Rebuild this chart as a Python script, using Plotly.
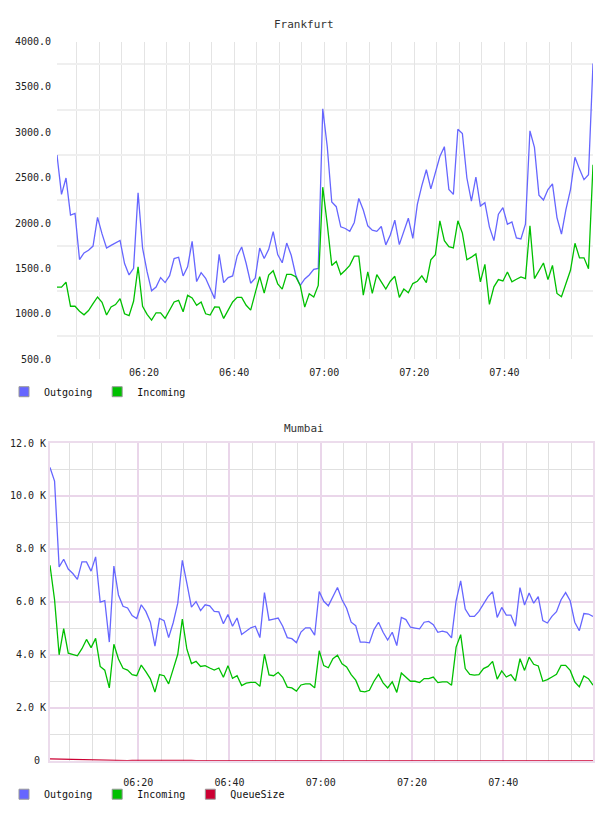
import pandas as pd
import plotly.graph_objects as go

# ---------------- data ----------------
times = pd.date_range("2015-03-10 06:00:40", periods=120, freq="1min")

fra_outgoing = [2750, 2315, 2496, 2087, 2105, 1598, 1671, 1699, 1746, 2062, 1880, 1724, 1754, 1779, 1808,
                1554, 1428, 1500, 2333, 1724, 1464, 1254, 1294, 1399, 1344, 1420, 1609, 1623, 1417, 1518,
                1797, 1355, 1453, 1391, 1283, 1167, 1656, 1344, 1399, 1417, 1638, 1736, 1554, 1337, 1391,
                1724, 1609, 1710, 1906, 1652, 1562, 1779, 1645, 1428, 1312, 1384, 1428, 1489, 1500,
                3259, 2842, 2231, 2180, 1958, 1940, 1908, 2006, 2271, 2144, 1969, 1922, 1908, 1962, 1759,
                1868, 2031, 1762, 1897, 2053, 1831, 2206, 2413, 2587, 2376, 2569, 2732, 2841, 2369, 2315,
                3034, 2987, 2496, 2242, 2507, 2187, 2224, 1958, 1806, 2097, 2169, 1987, 2013, 1835, 1824,
                1987, 3016, 2834, 2307, 2253, 2369, 2431, 2060, 1878, 2151, 2369, 2725, 2594, 2478, 2533, 3757]

fra_incoming = [1294, 1294, 1348, 1083, 1083, 1029, 989, 1036, 1112, 1185, 1127, 986, 1076, 1102, 1167,
                1000, 979, 1138, 1518, 1083, 993, 931, 1011, 1011, 949, 1047, 1130, 1148, 1022, 1203,
                1174, 1094, 1130, 1000, 986, 1076, 1073, 949, 1047, 1130, 1181, 1181, 1094, 1040, 1228,
                1409, 1228, 1427, 1475, 1330, 1272, 1435, 1435, 1409, 1312, 1073, 1221, 1185, 1312,
                2395, 1988, 1533, 1577, 1432, 1479, 1533, 1635, 1635, 1206, 1461, 1224, 1432, 1352, 1272,
                1359, 1413, 1181, 1272, 1232, 1333, 1359, 1417, 1344, 1595, 1650, 2024, 1806, 1740, 1726,
                2024, 1889, 1595, 1624, 1660, 1352, 1544, 1104, 1297, 1377, 1362, 1461, 1352, 1381, 1406,
                1388, 1969, 1388, 1479, 1559, 1377, 1533, 1224, 1188, 1333, 1479, 1777, 1617, 1617, 1497, 2642]

mum_outgoing_k = [11.08, 10.56, 7.32, 7.61, 7.24, 7.07, 6.85, 7.51, 7.51, 7.16, 7.70, 5.99, 6.05, 4.48, 7.35,
                  6.26, 5.83, 5.77, 5.48, 5.37, 5.89, 5.64, 5.23, 4.33, 5.37, 5.29, 4.65, 5.21, 5.95, 7.57,
                  6.70, 5.80, 6.01, 5.67, 5.89, 5.85, 5.64, 5.62, 5.17, 5.52, 5.08, 5.39, 4.77, 4.89, 5.02,
                  5.08, 4.65, 6.35, 5.31, 5.35, 5.39, 5.08, 4.65, 4.61, 4.46, 4.86, 5.02, 5.02, 4.74, 6.39,
                  6.02, 5.85, 6.20, 6.54, 6.08, 5.76, 5.23, 5.10, 4.48, 4.48, 4.45, 4.95, 5.23, 4.85, 4.56,
                  4.85, 4.35, 5.41, 5.33, 5.04, 5.01, 4.98, 5.23, 5.26, 5.14, 4.85, 4.89, 4.85, 4.64, 6.04,
                  6.79, 5.73, 5.45, 5.45, 5.64, 5.91, 6.20, 6.38, 5.41, 5.79, 5.50, 5.50, 5.08, 6.54, 5.88,
                  6.33, 5.95, 6.20, 5.29, 5.20, 5.45, 5.63, 6.08, 6.35, 6.04, 5.23, 4.91, 5.56, 5.54, 5.45]

mum_incoming_k = [7.38, 6.08, 4.00, 4.99, 4.06, 4.02, 3.96, 4.23, 4.58, 4.27, 4.62, 3.56, 3.42, 2.75, 4.40,
                  3.84, 3.49, 3.42, 3.25, 3.21, 3.61, 3.36, 3.09, 2.59, 3.25, 3.21, 2.90, 3.46, 4.02, 5.35,
                  4.21, 3.67, 3.75, 3.56, 3.59, 3.50, 3.42, 3.50, 3.15, 3.59, 3.11, 3.21, 2.84, 2.93, 2.96,
                  2.96, 2.81, 4.02, 3.24, 3.21, 3.34, 3.15, 2.78, 2.75, 2.63, 2.86, 2.90, 2.90, 2.75, 4.15,
                  3.59, 3.51, 3.85, 3.98, 3.66, 3.54, 3.25, 3.04, 2.63, 2.60, 2.66, 3.00, 3.26, 2.94, 2.75,
                  2.98, 2.58, 3.31, 3.16, 3.00, 3.00, 2.95, 3.10, 3.10, 3.16, 2.95, 2.98, 2.98, 2.85, 4.29,
                  4.76, 3.48, 3.26, 3.23, 3.25, 3.48, 3.56, 3.75, 3.08, 3.39, 3.16, 3.25, 3.01, 3.85, 3.41,
                  3.91, 3.64, 3.58, 3.00, 3.06, 3.16, 3.26, 3.60, 3.60, 3.41, 2.98, 2.79, 3.20, 3.10, 2.85]

mum_queue = [65, 60, 55, 50, 52, 45, 40, 30, 25, 20, 15, 12, 10, 8, 6, 5, 5, 4, 6, 8,
             10, 12, 10, 6, 4, 3, 5, 8, 12, 15, 10, 6, 4, 3, 2, 2, 3, 4, 3, 2,
             2, 3, 2, 2, 1, 2, 3, 4, 3, 2, 2, 1, 1, 2, 2, 1, 1, 1, 2, 3,
             2, 1, 1, 1, 2, 1, 1, 1, 1, 2, 1, 1, 1, 1, 1, 2, 1, 1, 1, 1,
             1, 1, 1, 1, 1, 1, 1, 1, 1, 2, 2, 1, 1, 1, 1, 1, 1, 1, 1, 1,
             1, 1, 1, 1, 1, 1, 1, 1, 1, 1, 1, 1, 1, 1, 1, 1, 1, 1, 1, 1]

x_tick_labels = ["06:20", "06:40", "07:00", "07:20", "07:40"]
fra_y_ticks = [500, 1000, 1500, 2000, 2500, 3000, 3500, 4000]
fra_y_labels = ["500.0", "1000.0", "1500.0", "2000.0", "2500.0", "3000.0", "3500.0", "4000.0"]
mum_y_ticks = [0, 2000, 4000, 6000, 8000, 10000, 12000]
mum_y_labels = ["0\u00a0", "2.0 K", "4.0 K", "6.0 K", "8.0 K", "10.0 K", "12.0 K"]

# ---------------- styles ----------------
W, H = 608, 816
C_OUT, C_IN, C_Q = "#6666ff", "#00c000", "#cc0033"
MONO = "DejaVu Sans Mono"
GRID = "#e4e4e4"
HGRID = "#efefef"
PINK = "#ecdcec"
PGRID = "#ead6ea"

day = "2015-03-10 "
x_tickvals = [day + t for t in x_tick_labels]
five_min = [str(t) for t in pd.date_range(day + "06:05", day + "07:55", freq="5min")]
x_range = [str(times[0]), str(times[-1])]

def px_x(a, b):
    return [a / W, b / W]

def px_y(top, bottom):
    return [1 - bottom / H, 1 - top / H]

fig = go.Figure()

mum_outgoing = [v * 1000 for v in mum_outgoing_k]
mum_incoming = [v * 1000 for v in mum_incoming_k]

line_w = 1.3
fig.add_trace(go.Scatter(x=times, y=fra_outgoing, mode="lines", line=dict(color=C_OUT, width=line_w),
                         xaxis="x", yaxis="y", showlegend=False, name="Outgoing"))
fig.add_trace(go.Scatter(x=times, y=fra_incoming, mode="lines", line=dict(color=C_IN, width=line_w),
                         xaxis="x", yaxis="y", showlegend=False, name="Incoming"))
fig.add_trace(go.Scatter(x=times, y=mum_queue, mode="lines", line=dict(color=C_Q, width=line_w),
                         xaxis="x2", yaxis="y2", showlegend=False, name="QueueSize"))
fig.add_trace(go.Scatter(x=times, y=mum_outgoing, mode="lines", line=dict(color=C_OUT, width=line_w),
                         xaxis="x2", yaxis="y2", showlegend=False, name="Outgoing"))
fig.add_trace(go.Scatter(x=times, y=mum_incoming, mode="lines", line=dict(color=C_IN, width=line_w),
                         xaxis="x2", yaxis="y2", showlegend=False, name="Incoming"))

def legend_marker(name, color, xa, ya, leg):
    fig.add_trace(go.Scatter(x=[None], y=[None], mode="markers", name=name, xaxis=xa, yaxis=ya,
                             legend=leg,
                             marker=dict(symbol="square", size=10, color=color,
                                         line=dict(color="#999999", width=1))))

legend_marker("Outgoing", C_OUT, "x", "y", "legend")
legend_marker("Incoming", C_IN, "x", "y", "legend")
legend_marker("Outgoing", C_OUT, "x2", "y2", "legend2")
legend_marker("Incoming", C_IN, "x2", "y2", "legend2")
legend_marker("QueueSize", C_Q, "x2", "y2", "legend2")

tick_font = dict(family=MONO, size=10, color="#222222")

fig.update_layout(
    width=W, height=H, margin=dict(l=0, r=0, t=0, b=0),
    paper_bgcolor="white", plot_bgcolor="white",
    xaxis=dict(domain=px_x(57, 593), anchor="y", type="date", range=x_range,
               tickvals=x_tickvals, ticktext=x_tick_labels, tickfont=tick_font,
               showgrid=True, gridcolor=GRID, gridwidth=1, zeroline=False, showline=False,
               ticks="", ticklabelstandoff=6,
               minor=dict(tickvals=five_min, showgrid=True, gridcolor=GRID, gridwidth=1)),
    yaxis=dict(domain=px_y(37, 359), anchor="x", range=[500, 4000],
               tickvals=fra_y_ticks, ticktext=fra_y_labels, tickfont=tick_font,
               showgrid=False, zeroline=False, showline=False, ticks="", ticklabelstandoff=5,
               minor=dict(tickvals=[750, 1250, 1750, 2250, 2750, 3250, 3750], showgrid=True,
                          gridcolor=HGRID, gridwidth=2)),
    xaxis2=dict(domain=px_x(50, 593), anchor="y2", type="date", range=x_range,
                tickvals=x_tickvals, ticktext=x_tick_labels, tickfont=tick_font,
                showgrid=True, gridcolor=PGRID, gridwidth=1.5, zeroline=False,
                showline=True, mirror=True, linecolor=PINK, linewidth=2,
                ticks="", ticklabelstandoff=11,
                minor=dict(tickvals=five_min, showgrid=True, gridcolor="#e0e0e0", gridwidth=1)),
    yaxis2=dict(domain=px_y(444, 766), anchor="x2", range=[0, 12000],
                tickvals=mum_y_ticks, ticktext=mum_y_labels, tickfont=tick_font,
                showgrid=True, gridcolor=PGRID, gridwidth=1.5, zeroline=False,
                showline=True, mirror=True, linecolor=PINK, linewidth=2,
                ticks="", ticklabelstandoff=0,
                minor=dict(tickvals=[1000, 3000, 5000, 7000, 9000, 11000], showgrid=True,
                           gridcolor="#e0e0e0", gridwidth=1)),
    legend=dict(orientation="h", x=4 / W, y=1 - 392 / H, xanchor="left", yanchor="middle",
                font=dict(family=MONO, size=10, color="#111111"),
                bgcolor="rgba(0,0,0,0)", itemclick=False, itemdoubleclick=False),
    legend2=dict(orientation="h", x=4 / W, y=1 - 800 / H, xanchor="left", yanchor="middle",
                 font=dict(family=MONO, size=10, color="#111111"),
                 bgcolor="rgba(0,0,0,0)", itemclick=False, itemdoubleclick=False),
    annotations=[
        dict(text="Frankfurt", x=0.5, y=1 - 20 / H, xref="paper", yref="paper", showarrow=False,
             xanchor="center", yanchor="middle", font=dict(family=MONO, size=11, color="#333333")),
        dict(text="Mumbai", x=0.5, y=1 - 429 / H, xref="paper", yref="paper", showarrow=False,
             xanchor="center", yanchor="middle", font=dict(family=MONO, size=11, color="#333333")),
    ],
)

fig.write_html("out.html")
